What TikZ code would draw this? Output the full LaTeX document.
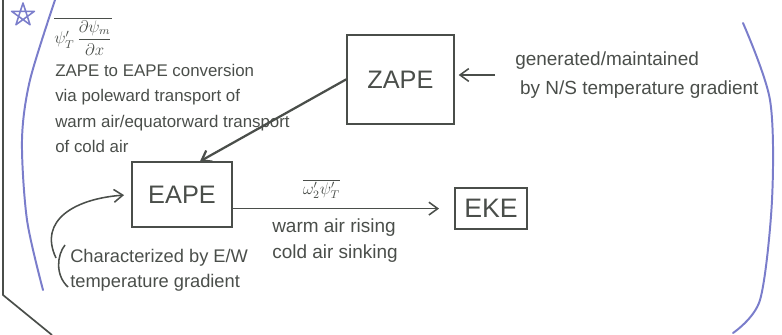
\documentclass[tikz,border=0pt]{standalone}
\usepackage{amsmath}
\usepackage{fontspec}
\setmainfont{Liberation Sans}
\usetikzlibrary{arrows.meta,positioning}
\definecolor{PencilInk}{HTML}{4A4E4A}
\definecolor{MarkerBlue}{HTML}{7A7DCB}
\tikzset{
  sketch/.style={font=\fontsize{12}{18}\selectfont,text=PencilInk},
  energybox/.style={draw=PencilInk,line width=1.1pt,font=\fontsize{18}{20}\selectfont},
  remark/.style={align=left,inner sep=0pt},
  bigremark/.style={remark,font=\fontsize{13.5}{18}\selectfont},
  flow/.style={-{Straight Barb[length=2.2mm,width=3.2mm]},line width=1.1pt,draw=PencilInk},
  margin/.style={draw=MarkerBlue,line width=1.4pt,line cap=round},
}

\begin{document}
\begin{tikzpicture}[sketch]
  \useasboundingbox (0,0) rectangle (19.55,8.375);

  % page edge and blue margin marks
  \draw[PencilInk,line width=1.2pt] (0.075,8.375) -- (0.075,1.0) -- (1.3,0);
  \draw[margin] plot[smooth] coordinates {(1.375,8.375) (0.75,6.375) (0.55,4.875) (0.675,2.875) (1.075,1.125)};
  \draw[margin] plot[smooth] coordinates {(18.575,7.8) (19.25,5.875) (19.3,3.375) (19.0,0.875) (18.325,0.05)};
  \draw[margin,line width=1.1pt,line join=round,shift={(0.575,8.0)}]
    (90:0.3) -- (234:0.3) -- (18:0.3) -- (162:0.3) -- (306:0.3) -- cycle;

  % energy reservoirs
  \node[energybox,minimum width=2.675cm,minimum height=2.225cm] (ZAPE) at (10.01,6.39) {ZAPE};
  \node[energybox,minimum width=2.5cm,minimum height=1.625cm] (EAPE) at (4.55,3.51) {EAPE};
  \node[energybox,minimum width=1.8cm,minimum height=1.025cm,font=\fontsize{19}{20}\selectfont] (EKE) at (12.275,3.16) {EKE};

  % remarks
  \node[remark,anchor=west] (zaconv) at (1.35,7.475)
    {$\displaystyle\overline{\psi_T'\,\frac{\partial\psi_m}{\partial x}}$};
  \node[remark,anchor=west] (zatext) at (1.375,5.66)
    {ZAPE to EAPE conversion\\via poleward transport of\\warm air/equatorward transport\\of cold air};
  \node[bigremark,anchor=west] (source) at (12.875,6.5)
    {generated/maintained\\[3pt]\hspace{0.12cm}by N/S temperature gradient};
  \node[bigremark,anchor=west] (rising) at (6.8,2.36)
    {warm air rising\\cold air sinking};
  \node[remark,anchor=west,font=\fontsize{13}{18}\selectfont] (ewnote) at (1.75,1.6125)
    {Characterized by E/W\\temperature gradient};

  % bracket in front of the E/W note
  \draw[PencilInk,line width=1.1pt] (1.625,2.25) .. controls (1.425,2.0) and (1.375,1.5) .. (1.7,1.2);
  \coordinate (brk) at (1.4,1.925);

  % conversions
  \draw[flow,line width=1.6pt] (ZAPE.west) -- ([xshift=0.45cm]EAPE.north);
  \draw[flow,shorten >=0.38cm] (EAPE.east |- EKE.west) -- (EKE.west)
    node[pos=0.4,above=3pt] (eaconv) {$\overline{\omega_2'\psi_T'}$};
  \draw[flow,shorten <=0.5cm,shorten >=0.1cm] (source.west) -- (source.west -| ZAPE.east);
  \draw[flow,shorten >=0.18cm] (brk) .. controls +(-0.45,0.95) and +(-1.4,-0.1) .. (EAPE.west);
\end{tikzpicture}
\end{document}
